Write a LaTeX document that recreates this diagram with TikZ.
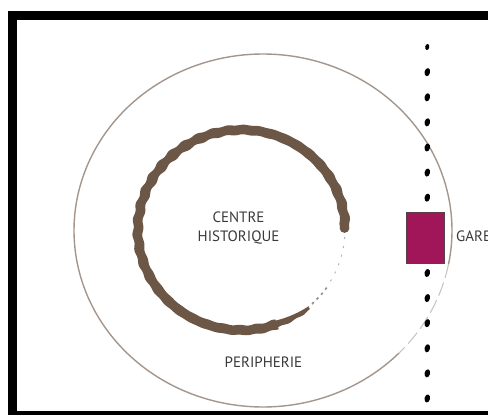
\documentclass[tikz,border=0pt]{standalone}
\usepackage{fontspec}
\setmainfont{PT Sans}
\definecolor{ringbrown}{RGB}{108,86,70}
\definecolor{outerline}{RGB}{165,150,140}
\definecolor{faintline}{RGB}{200,192,186}
\definecolor{garefill}{RGB}{160,22,88}
\definecolor{gareedge}{RGB}{90,62,72}
\definecolor{labelgray}{RGB}{58,58,58}
\begin{document}
\begin{tikzpicture}[x=1pt,y=-1pt,
  lbl/.style={font=\fontsize{15}{19}\selectfont, text=labelgray, align=center, inner sep=0pt},
  framestroke/.style={line width=8.5pt, black},
  outerring/.style={line width=1.4pt, outerline},
  garebox/.style={draw=gareedge, fill=garefill, line width=1pt, minimum width=38pt, minimum height=51pt, inner sep=0pt},
  bean/.style={fill=black}]
\useasboundingbox (0,0) rectangle (488,415);
\clip (0,0) rectangle (488,415);
\fill[white] (0,0) rectangle (488,415);
% frame
\draw[framestroke] (12.5,430) -- (12.5,15.5) -- (500,15.5);
\draw[framestroke] (8,415.5) -- (500,415.5);
% outer ring (peripherie)
\draw[outerring] plot[domain=44:371, samples=160, smooth] ({263+189*cos(\x)},{230.5+176.5*sin(\x)});
\draw[line width=1pt, faintline, dash pattern=on 14pt off 5pt] plot[domain=11:44, samples=30, smooth] ({263+189*cos(\x)},{230.5+176.5*sin(\x)});
% inner ring (centre historique): rough filled band
\fill[ringbrown] plot[domain=70:358, samples=500] ({241.5+(108.5+0.45*sin(43*\x)+0.35*sin(41*\x+50))*cos(\x)},{230+(105+0.45*sin(43*\x)+0.35*sin(41*\x+50))*sin(\x)})
  -- plot[domain=358:70, samples=500] ({241.5+(98.8+0.45*sin(39*\x+10)+0.35*sin(37*\x+80))*cos(\x)},{230+(95.3+0.45*sin(39*\x+10)+0.35*sin(37*\x+80))*sin(\x)}) -- cycle;
\fill[ringbrown] (344.5,228) circle[radius=4.9];
\fill[ringbrown] plot[domain=50:72, samples=40] ({241.5+(107+0.5*sin(41*\x))*cos(\x)},{230+(103.5+0.5*sin(41*\x))*sin(\x)})
  -- plot[domain=72:50, samples=40] ({241.5+(99.5+(72-\x)/22*4)*cos(\x)},{230+(96+(72-\x)/22*4)*sin(\x)}) -- cycle;
\draw[line width=1.6pt, ringbrown!70, dash pattern=on 2.5pt off 4pt] plot[domain=35:50, samples=15, smooth] ({241.5+104*cos(\x)},{230+100.5*sin(\x)});
\draw[line width=1pt, ringbrown!45, dash pattern=on 2pt off 7pt] plot[domain=4:35, samples=20, smooth] ({241.5+103.5*cos(\x)},{230+100*sin(\x)});
% dotted boundary (railway)
\foreach \k in {0,...,14}{
  \pgfmathsetmacro{\yy}{47+25.1*\k}
  \pgfmathsetmacro{\sc}{ifthenelse(\k==0,0.75,1)}
  \begin{scope}[shift={(427,\yy)}, scale=\sc]
    \fill[bean, rotate=-12] (0.3,0) ellipse[x radius=2.7, y radius=4.1];
  \end{scope}
}
% gare
\node[garebox] (gare) at (425,237.5) {};
\node[lbl, anchor=west] (garelabel) at (456,236.5) {GARE};
% labels
\node[lbl] (centre) at (238.5,228.5) {CENTRE\\HISTORIQUE};
\node[lbl] (peripherie) at (263.5,362) {PERIPHERIE};
\end{tikzpicture}
\end{document}
